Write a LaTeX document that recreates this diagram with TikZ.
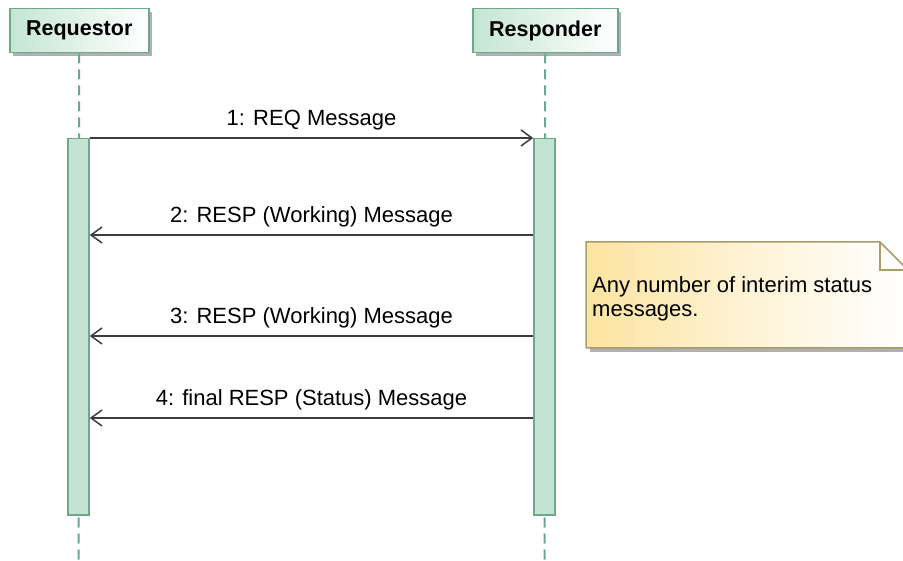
\documentclass[tikz,border=0pt]{standalone}
\usepackage{fontspec}
\setmainfont{Liberation Sans}
\usetikzlibrary{arrows.meta}
\definecolor{lineg}{HTML}{6BA98A}
\definecolor{barfill}{HTML}{C3E3D3}
\definecolor{hdrfill}{HTML}{C4E5D3}
\definecolor{notefill}{HTML}{FCE4A0}
\definecolor{notedraw}{HTML}{A89C6A}
\definecolor{msgcol}{HTML}{3C3C3C}
\definecolor{shadowcol}{HTML}{B0B0B0}
\tikzset{
  hdr/.style={draw=lineg, line width=1.5pt, left color=hdrfill, right color=white,
    minimum height=44pt, anchor=north west, inner sep=0pt,
    font=\fontsize{21.5}{24}\selectfont\bfseries},
  actbar/.style={draw=lineg, line width=1.5pt, fill=barfill, minimum width=21pt,
    minimum height=376pt, anchor=north, inner sep=0pt},
  lifeline/.style={draw=lineg, line width=2pt, dash pattern=on 10pt off 6pt},
  msgline/.style={draw=msgcol, line width=1.5pt,
    -{Straight Barb[length=11pt,width=16pt,line width=1.5pt]}},
  msglabel/.style={anchor=base, yshift=12pt, inner sep=0pt,
    font=\fontsize{22}{24}\selectfont},
  notetext/.style={anchor=base west, inner sep=0pt, align=left,
    font=\fontsize{22}{24}\selectfont}
}
\begin{document}
\begin{tikzpicture}[x=1pt,y=-1pt]
\clip (0,0) rectangle (903,561);
\fill[white] (0,0) rectangle (903,561);
% header shadows
\fill[shadowcol] (13,12) rectangle (152,56);
\fill[shadowcol] (476,12) rectangle (621,56);
% headers
\node[hdr, minimum width=139pt] (req) at (9,8) {Requestor};
\node[hdr, minimum width=145pt] (resp) at (472,8) {Responder};
% lifeline ends
\coordinate (reqend) at (78.5,561);
\coordinate (respend) at (544.5,561);
\draw[lifeline] (req.south) -- (reqend);
\draw[lifeline] (resp.south) -- (respend);
% activation bars
\node[actbar] (barA) at (78.5,138) {};
\node[actbar] (barB) at (544.5,138) {};
% messages
\draw[msgline] (barA.north east) -- node[msglabel] (m1) {1: REQ Message} (barB.north west);
\draw[msgline] (barB.west |- 0,235) -- node[msglabel] (m2) {2: RESP (Working) Message} (barA.east |- 0,235);
\draw[msgline] (barB.west |- 0,336) -- node[msglabel] (m3) {3: RESP (Working) Message} (barA.east |- 0,336);
\draw[msgline] (barB.west |- 0,418) -- node[msglabel] (m4) {4: final RESP (Status) Message} (barA.east |- 0,418);
% note
\fill[shadowcol] (590,246) -- (884,246) -- (912,274) -- (912,352) -- (590,352) -- cycle;
\shade[left color=notefill, right color=white, middle color=notefill!45!white] (586,242) -- (880,242) -- (908,270) -- (908,348) -- (586,348) -- cycle;
\draw[notedraw, line width=1.5pt, line join=miter] (586,242) -- (880,242) -- (908,270) -- (908,348) -- (586,348) -- cycle;
\draw[notedraw, line width=1.5pt] (880,242) -- (880,270) -- (908,270);
\node[notetext] (note) at (592,317) {Any number of interim status\\messages.};
\end{tikzpicture}
\end{document}
